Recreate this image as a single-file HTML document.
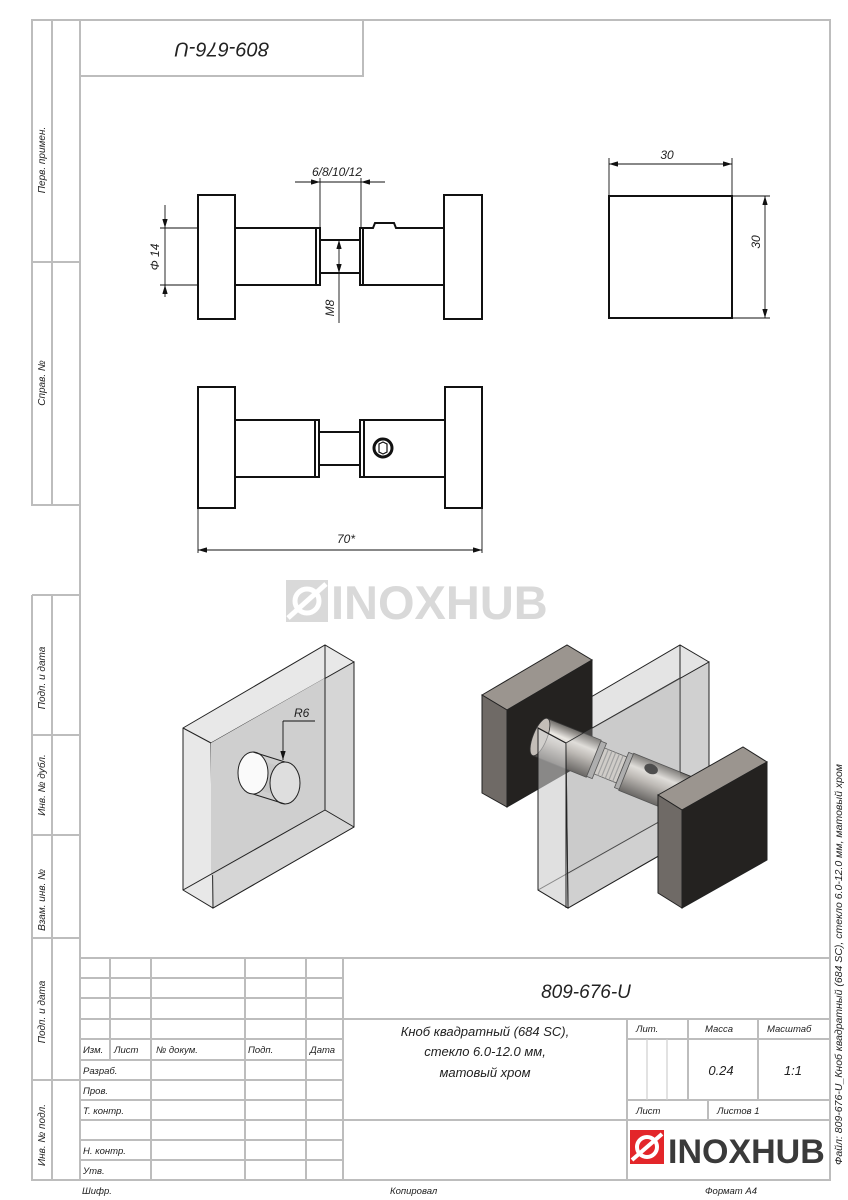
<!DOCTYPE html>
<html><head><meta charset="utf-8"><style>
body{margin:0;background:#fff}
svg{display:block}
text{font-family:"Liberation Sans",sans-serif;font-style:italic;fill:#222}
.g{stroke:#bdbdbd;stroke-width:2;fill:none}
.k{stroke:#111;stroke-width:2;fill:none}
.t{stroke:#111;stroke-width:0.9;fill:none}
</style></head><body>
<svg width="848" height="1200" viewBox="0 0 848 1200" xmlns="http://www.w3.org/2000/svg">
<defs>
<marker id="a" viewBox="0 0 10 6" refX="10" refY="3" markerWidth="10" markerHeight="6" orient="auto-start-reverse"><path d="M0,0 L10,3 L0,6 z" fill="#111"/></marker>
<linearGradient id="cyl" x1="0" y1="0" x2="0" y2="1">
<stop offset="0" stop-color="#6d6a66"/><stop offset="0.3" stop-color="#ece9e4"/><stop offset="0.55" stop-color="#bdb8b2"/><stop offset="1" stop-color="#4e4b48"/></linearGradient>
</defs>

<!-- frame -->
<path class="g" d="M80,20 H830 V1180 H32 V595 M32,505 V20 H80 M80,20 V1180"/>
<path class="g" d="M32,20 V505 H80 M52,20 V505 M32,262 H80"/>
<path class="g" d="M32,595 H80 M52,595 V1180 M32,735 H80 M32,835 H80 M32,938 H80 M32,1080 H80"/>
<path class="g" d="M80,76 H363 V20"/>
<text transform="translate(222,48) rotate(180)" font-size="20" text-anchor="middle" dominant-baseline="middle">809-676-U</text>

<g font-size="10">
<text transform="translate(45,160) rotate(-90)" text-anchor="middle">Перв. примен.</text>
<text transform="translate(45,383) rotate(-90)" text-anchor="middle">Справ. №</text>
<text transform="translate(45,678) rotate(-90)" text-anchor="middle">Подп. и дата</text>
<text transform="translate(45,785) rotate(-90)" text-anchor="middle">Инв. № дубл.</text>
<text transform="translate(45,900) rotate(-90)" text-anchor="middle">Взам. инв. №</text>
<text transform="translate(45,1012) rotate(-90)" text-anchor="middle">Подп. и дата</text>
<text transform="translate(45,1135) rotate(-90)" text-anchor="middle">Инв. № подл.</text>
<text transform="translate(842,1165) rotate(-90)" font-size="10.5">Файл: 809-676-U_Кноб квадратный (684 SC), стекло 6.0-12.0 мм, матовый хром</text>
</g>

<!-- title block -->
<path class="g" d="M80,958 H830 M80,978 H343 M80,998 H343 M343,1019 H830 M80,1019 H343 M80,1039 H343 M80,1060 H343 M80,1080 H343 M80,1100 H343 M80,1120 H343 M80,1140 H343 M80,1160 H343"/>
<path class="g" d="M110,958 V1060 M151,958 V1180 M245,958 V1180 M306,958 V1180 M343,958 V1180"/>
<path class="g" d="M343,1120 H830 M627,1019 V1180 M627,1039 H830 M627,1100 H830 M688,1019 V1100 M758,1019 V1100 M708,1100 V1120"/>
<path stroke="#cfcfcf" stroke-width="1.2" d="M647,1039 V1100 M667,1039 V1100"/>
<g font-size="9.5">
<text x="83" y="1053">Изм.</text><text x="114" y="1053">Лист</text><text x="156" y="1053">№ докум.</text><text x="248" y="1053">Подп.</text><text x="310" y="1053">Дата</text>
<text x="83" y="1074">Разраб.</text><text x="83" y="1094">Пров.</text><text x="83" y="1114">Т. контр.</text><text x="83" y="1154">Н. контр.</text><text x="83" y="1174">Утв.</text>
<text x="636" y="1032">Лит.</text><text x="705" y="1032">Масса</text><text x="767" y="1032">Масштаб</text>
<text x="636" y="1114">Лист</text><text x="717" y="1114">Листов 1</text>
<text x="82" y="1194">Шифр.</text><text x="390" y="1194">Копировал</text><text x="705" y="1194">Формат А4</text>
</g>
<text x="586" y="998" font-size="19" text-anchor="middle">809-676-U</text>
<g font-size="13" text-anchor="middle">
<text x="485" y="1036">Кноб квадратный (684 SC),</text>
<text x="485" y="1056">стекло 6.0-12.0 мм,</text>
<text x="485" y="1077">матовый хром</text>
<text x="721" y="1075">0.24</text><text x="793" y="1075">1:1</text>
</g>
<!-- logo -->
<rect x="630" y="1130" width="34" height="34" fill="#e3262a"/>
<circle cx="647" cy="1147" r="10" fill="none" stroke="#fff" stroke-width="4"/>
<path d="M632,1160 L662,1134" stroke="#fff" stroke-width="4"/>
<text x="668" y="1163" font-size="34" font-weight="bold" style="font-style:normal;fill:#3a3a3a">INOXHUB</text>

<!-- watermark -->
<rect x="286" y="580" width="42" height="42" fill="#d9d9d9"/>
<circle cx="307" cy="601" r="12" fill="none" stroke="#fff" stroke-width="5"/>
<path d="M288,618 L326,584" stroke="#fff" stroke-width="5"/>
<text x="331" y="619" font-size="47" font-weight="bold" style="font-style:normal;fill:#d9d9d9">INOXHUB</text>

<!-- front view 1 -->
<g class="k">
<rect x="198" y="195" width="37" height="124"/>
<rect x="444" y="195" width="38" height="124"/>
<rect x="235" y="228" width="81" height="57"/>
<rect x="316" y="228" width="4" height="57"/>
<rect x="320" y="240" width="40" height="33"/>
<rect x="360" y="228" width="3" height="57"/>
<path d="M363,228 H373 L375,223 H394 L396,228 H444 V285 H363"/>
</g>
<g class="t">
<line x1="295" y1="182" x2="385" y2="182"/>
<line x1="295" y1="182" x2="320" y2="182" marker-end="url(#a)"/>
<line x1="385" y1="182" x2="361" y2="182" marker-end="url(#a)"/>
<path d="M320,178 V228 M361,178 V228"/>
<path d="M160,228 H198 M160,285 H198"/>
<line x1="165" y1="205" x2="165" y2="228" marker-end="url(#a)"/>
<line x1="165" y1="297" x2="165" y2="285" marker-end="url(#a)"/>
<line x1="165" y1="228" x2="165" y2="285"/>
<line x1="339" y1="256" x2="339" y2="240" marker-end="url(#a)"/>
<line x1="339" y1="256" x2="339" y2="273" marker-end="url(#a)"/>
<line x1="339" y1="273" x2="339" y2="323"/>
</g>
<text x="337" y="176" font-size="12" text-anchor="middle">6/8/10/12</text>
<text transform="translate(159,257) rotate(-90)" font-size="12" text-anchor="middle">Φ 14</text>
<text transform="translate(334,308) rotate(-90)" font-size="12" text-anchor="middle">M8</text>

<!-- view 2 -->
<g class="k">
<rect x="198" y="387" width="37" height="121"/>
<rect x="445" y="387" width="37" height="121"/>
<rect x="235" y="420" width="80" height="57"/>
<rect x="315" y="420" width="4" height="57"/>
<rect x="319" y="432" width="41" height="33"/>
<rect x="360" y="420" width="4" height="57"/>
<rect x="364" y="420" width="81" height="57"/>
<circle cx="383" cy="448" r="9" stroke-width="3"/>
<polygon points="379,444 383,442 387,444 387,452 383,454 379,452" stroke-width="1.2"/>
</g>
<g class="t">
<path d="M198,508 V553 M482,508 V553"/>
<line x1="340" y1="550" x2="198" y2="550" marker-end="url(#a)"/>
<line x1="340" y1="550" x2="482" y2="550" marker-end="url(#a)"/>
</g>
<text x="346" y="543" font-size="12" text-anchor="middle">70*</text>

<!-- side square -->
<rect x="609" y="196" width="123" height="122" class="k"/>
<g class="t">
<path d="M609,196 V158 M732,196 V158 M732,196 H770 M732,318 H770"/>
<line x1="670" y1="164" x2="609" y2="164" marker-end="url(#a)"/>
<line x1="670" y1="164" x2="732" y2="164" marker-end="url(#a)"/>
<line x1="765" y1="257" x2="765" y2="196" marker-end="url(#a)"/>
<line x1="765" y1="257" x2="765" y2="318" marker-end="url(#a)"/>
</g>
<text x="667" y="159" font-size="12" text-anchor="middle">30</text>
<text transform="translate(760,242) rotate(-90)" font-size="12" text-anchor="middle">30</text>

<!-- iso glass left -->
<g stroke="#222" stroke-width="1">
<polygon points="183,728 325,645 354,662 354,827 213,908 183,890" fill="#e8e8e8"/>
<polygon points="211,743 354,662 354,827 213,908" fill="#d6d6d6"/>
<polygon points="211,743 325,678 325,810 211,876" fill="#cfcfcf" stroke="none"/>
<path d="M183,728 L211,743 M325,645 V810 L183,890 M325,810 L354,827" fill="none"/>
<path d="M183,728 V890" fill="none"/>
<path d="M253,758 L285,768 L285,798 L253,788 Z" fill="#c8c8c8" stroke="none"/>
<ellipse cx="253" cy="773" rx="15" ry="21" fill="#fafafa"/>
<ellipse cx="285" cy="783" rx="15" ry="21" fill="#dedede"/>
<path d="M253,752 L285,762 M253,794 L285,804" fill="none"/>
</g>
<g class="t"><path d="M283,721 H315"/><line x1="283" y1="721" x2="283" y2="760" marker-end="url(#a)"/></g>
<text x="294" y="717" font-size="12">R6</text>

<!-- assembly -->
<g stroke="#222" stroke-width="1">
<polygon points="538,728 680,645 709,662 709,827 568,908 538,890" fill="#e4e4e4"/>
<polygon points="566,743 709,662 709,827 568,908" fill="#d0d0d0"/>
<path d="M680,645 V810 L538,890 M680,810 L709,827" fill="none"/>
<polygon points="482,695 567,645 592,660 507,710" fill="#9b958f"/>
<polygon points="482,695 507,710 507,807 482,793" fill="#6f6a66"/>
<polygon points="507,710 592,660 592,758 507,807" fill="#242220"/>
</g>
<g transform="translate(540,737) rotate(22)">
<rect x="0" y="-20" width="58" height="40" fill="url(#cyl)" stroke="#333" stroke-width="0.8"/>
<rect x="58" y="-19" width="6" height="38" fill="#aaa" stroke="#333" stroke-width="0.8"/>
<rect x="64" y="-14" width="24" height="28" fill="#d6d2cc" stroke="#444" stroke-width="0.8"/>
<path d="M68,-14 V14 M72,-14 V14 M76,-14 V14 M80,-14 V14 M84,-14 V14" stroke="#999" stroke-width="1.2"/>
<rect x="88" y="-19" width="5" height="38" fill="#aaa" stroke="#333" stroke-width="0.8"/>
<rect x="93" y="-20" width="62" height="40" fill="url(#cyl)" stroke="#333" stroke-width="0.8"/>
<ellipse cx="0" cy="0" rx="7" ry="20" fill="#c4beb8" stroke="#333" stroke-width="0.8"/>
<ellipse cx="115" cy="-12" rx="7" ry="5" fill="#2a2a2a"/>
</g>
<g stroke="#222" stroke-width="1">
<polygon points="538,728 566,743 568,908 538,890" fill="#dcdcdc" fill-opacity="0.55"/>
<path d="M538,728 L566,743 V908 M538,728 V890 M566,743 L680,678" fill="none"/>
<polygon points="566,743 680,678 680,810 568,875" fill="#bbb" fill-opacity="0.25" stroke="none"/>
</g>
<g stroke="#222" stroke-width="1">
<polygon points="658,795 743,747 767,762 682,810" fill="#9b958f"/>
<polygon points="658,795 682,810 682,908 658,893" fill="#6f6a66"/>
<polygon points="682,810 767,762 767,860 682,908" fill="#242220"/>
</g>
</svg>
</body></html>
